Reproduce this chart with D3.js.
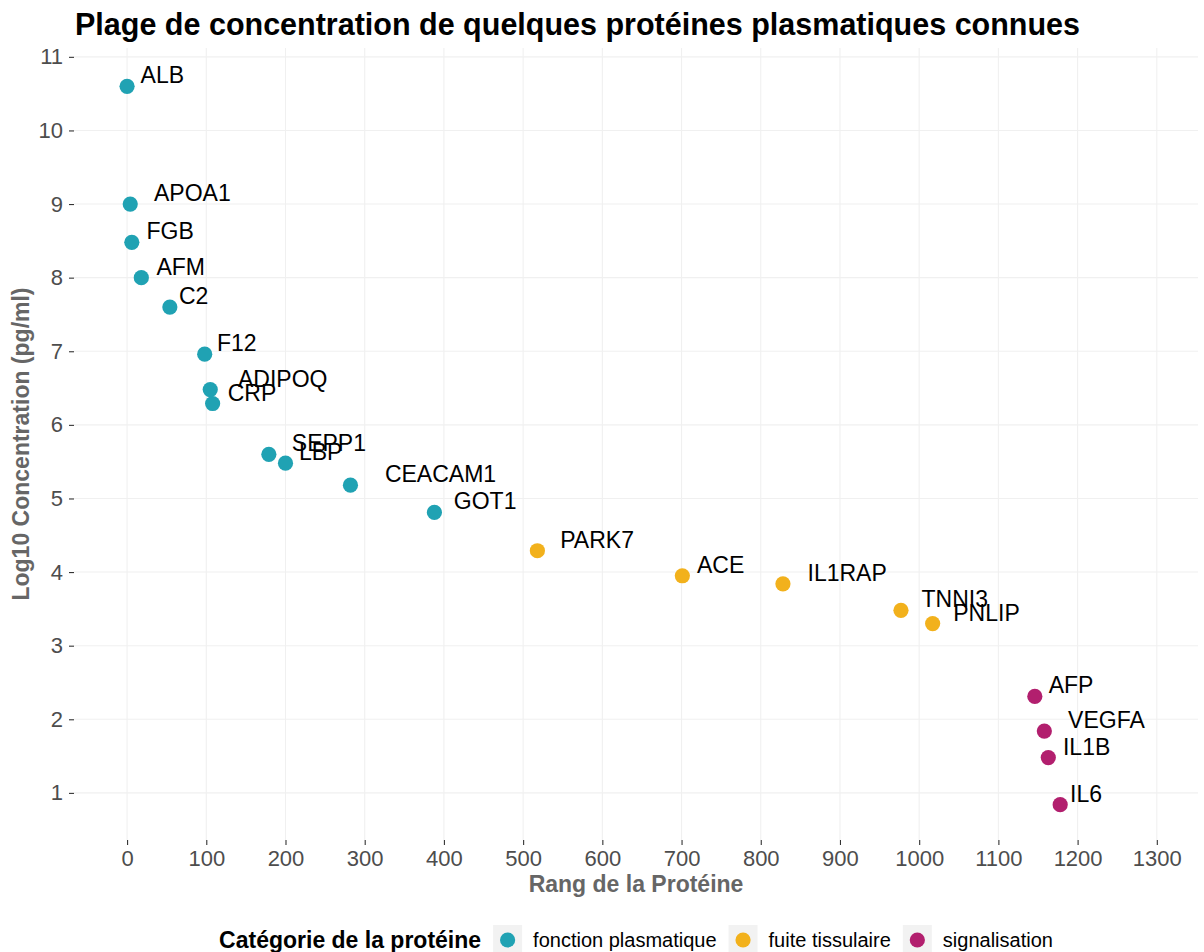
<!DOCTYPE html>
<html>
<head>
<meta charset="utf-8">
<script src="https://cdn.jsdelivr.net/npm/d3@7"></script>
<style>
  body { margin: 0; background: #fff; }
  text { font-family: Arial, "Liberation Sans", sans-serif; }
</style>
</head>
<body>
<script>
// protein data
var proteins = ["ALB", "APOA1", "FGB", "AFM", "C2", "F12", "ADIPOQ", "CRP", "SEPP1", "LBP",
  "CEACAM1", "GOT1", "PARK7", "ACE", "IL1RAP", "TNNI3", "PNLIP", "AFP", "VEGFA", "IL1B", "IL6"];
var rangs = [0, 4, 6, 18, 54, 98, 105, 108, 179, 200, 282, 388, 518, 701, 828, 977, 1017, 1146, 1158, 1163, 1178];
var log10conc = [10.6, 9.0, 8.48, 8.0, 7.6, 6.96, 6.48, 6.29, 5.6, 5.48, 5.18, 4.81, 4.29, 3.95, 3.84, 3.48, 3.30, 2.31, 1.84, 1.48, 0.84];
var categories = ["fonction plasmatique", "fonction plasmatique", "fonction plasmatique", "fonction plasmatique",
  "fonction plasmatique", "fonction plasmatique", "fonction plasmatique", "fonction plasmatique",
  "fonction plasmatique", "fonction plasmatique", "fonction plasmatique", "fonction plasmatique",
  "fuite tissulaire", "fuite tissulaire", "fuite tissulaire", "fuite tissulaire", "fuite tissulaire",
  "signalisation", "signalisation", "signalisation", "signalisation"];
var categoryNames = ["fonction plasmatique", "fuite tissulaire", "signalisation"];
var xTicks = [0, 100, 200, 300, 400, 500, 600, 700, 800, 900, 1000, 1100, 1200, 1300];
var yTicks = [1, 2, 3, 4, 5, 6, 7, 8, 9, 10, 11];

var width = 1204, height = 952;
var mLeft = 74, mRight = 1198, mTop = 48, mBottom = 840;

var data = proteins.map(function (p, i) {
  return { name: p, x: rangs[i], y: log10conc[i], cat: categories[i] };
});

var x = d3.scaleLinear().domain([-67, 1352]).range([mLeft, mRight]);
var y = d3.scaleLinear().domain([0.36, 11.12]).range([mBottom, mTop]);
var color = d3.scaleOrdinal().domain(categoryNames).range(["#20A2B3", "#F2B11C", "#B21F6E"]);

var svg = d3.select("body").append("svg")
  .attr("width", width)
  .attr("height", height);

// grid
svg.append("g").selectAll("line").data(xTicks).enter().append("line")
  .attr("x1", function (d) { return x(d); }).attr("x2", function (d) { return x(d); })
  .attr("y1", mTop).attr("y2", mBottom)
  .attr("stroke", "#F0F0F0").attr("stroke-width", 1.1);
svg.append("g").selectAll("line").data(yTicks).enter().append("line")
  .attr("y1", function (d) { return y(d); }).attr("y2", function (d) { return y(d); })
  .attr("x1", mLeft).attr("x2", mRight)
  .attr("stroke", "#F0F0F0").attr("stroke-width", 1.1);

// axes
var xAxis = svg.append("g")
  .attr("transform", "translate(0," + mBottom + ")")
  .call(d3.axisBottom(x).tickValues(xTicks).tickFormat(d3.format("d")).tickSize(5).tickPadding(5));
var yAxis = svg.append("g")
  .attr("transform", "translate(" + mLeft + ",0)")
  .call(d3.axisLeft(y).tickValues(yTicks).tickFormat(d3.format("d")).tickSize(5).tickPadding(6));
[xAxis, yAxis].forEach(function (a) {
  a.select(".domain").remove();
  a.selectAll(".tick line").attr("stroke", "#333").attr("stroke-width", 1.1);
  a.selectAll(".tick text").attr("fill", "#4D4D4D").style("font-size", "22px");
});

// points
svg.append("g").selectAll("circle").data(data).enter().append("circle")
  .attr("cx", function (d) { return x(d.x); })
  .attr("cy", function (d) { return y(d.y); })
  .attr("r", 7.6)
  .attr("fill", function (d) { return color(d.cat); });

// labels, hjust about -0.3 like the original
svg.append("g").selectAll("text").data(data).enter().append("text")
  .text(function (d) { return d.name; })
  .style("font-size", "23px")
  .attr("fill", "#000")
  .attr("y", function (d) { return y(d.y) - 3; })
  .attr("x", function (d) {
    var w = this.getComputedTextLength();
    return x(d.x) + 0.31 * w;
  });

// titles
svg.append("text")
  .attr("x", 75).attr("y", 35)
  .style("font-size", "30.5px").style("font-weight", "bold")
  .text("Plage de concentration de quelques protéines plasmatiques connues");

svg.append("text")
  .attr("x", (mLeft + mRight) / 2).attr("y", 892)
  .attr("text-anchor", "middle")
  .style("font-size", "23px").style("font-weight", "bold").attr("fill", "#666")
  .text("Rang de la Protéine");

svg.append("text")
  .attr("transform", "translate(29," + (mTop + mBottom) / 2 + ") rotate(-90)")
  .attr("text-anchor", "middle")
  .style("font-size", "23px").style("font-weight", "bold").attr("fill", "#666")
  .text("Log10 Concentration (pg/ml)");

// legend
var legend = svg.append("g");
var ly = 940;
var lt = legend.append("text")
  .attr("x", 0).attr("y", ly + 8)
  .style("font-size", "23px").style("font-weight", "bold")
  .text("Catégorie de la protéine");
var cx = lt.node().getComputedTextLength() + 12;
categoryNames.forEach(function (c) {
  legend.append("rect")
    .attr("x", cx).attr("y", ly - 15).attr("width", 29).attr("height", 30)
    .attr("fill", "#F2F2F2");
  legend.append("circle")
    .attr("cx", cx + 14.5).attr("cy", ly).attr("r", 7.6)
    .attr("fill", color(c));
  var t = legend.append("text")
    .attr("x", cx + 40).attr("y", ly + 7)
    .style("font-size", "20px")
    .text(c);
  cx += 40 + t.node().getComputedTextLength() + 12;
});
var lw = cx - 12;
legend.attr("transform", "translate(" + (636 - lw / 2) + ",0)");
</script>
</body>
</html>
